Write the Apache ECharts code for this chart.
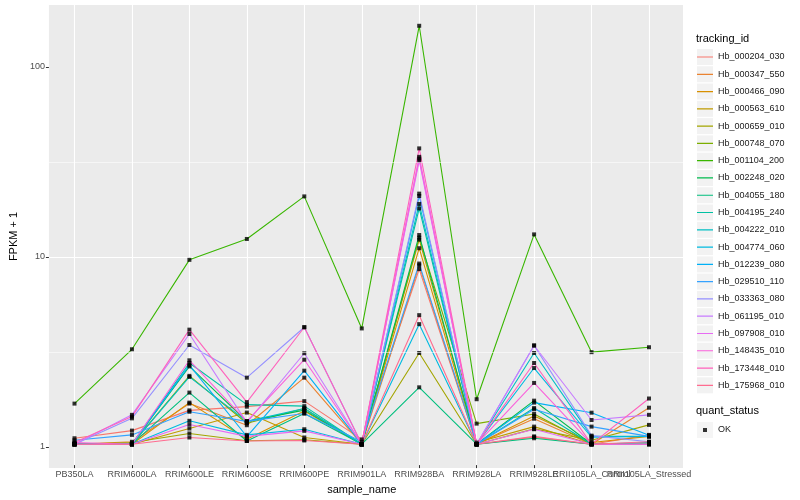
<!DOCTYPE html>
<html><head><meta charset="utf-8">
<script src="https://cdn.jsdelivr.net/npm/echarts@6/dist/echarts.min.js"></script>
<style>html,body{margin:0;padding:0;background:#fff}#c{width:800px;height:500px}</style>
</head><body><div id="c"></div>
<script>
const categories = ['PB350LA','RRIM600LA','RRIM600LE','RRIM600SE','RRIM600PE','RRIM901LA','RRIM928BA','RRIM928LA','RRIM928LE','RRII105LA_Control','RRII105LA_Stressed'];
const trackingIds = ['Hb_000204_030','Hb_000347_550','Hb_000466_090','Hb_000563_610','Hb_000659_010','Hb_000748_070','Hb_001104_200','Hb_002248_020','Hb_004055_180','Hb_004195_240','Hb_004222_010','Hb_004774_060','Hb_012239_080','Hb_029510_110','Hb_033363_080','Hb_061195_010','Hb_097908_010','Hb_148435_010','Hb_173448_010','Hb_175968_010'];
const colors = ['#F8766D','#EA8331','#D89000','#C09B00','#A3A500','#7CAE00','#39B600','#00BB4E','#00BF7D','#00C1A3','#00BFC4','#00BAE0','#00B0F6','#35A2FF','#9590FF','#C77CFF','#E76BF3','#FA62DB','#FF62BC','#FF6C90'];

// FPKM + 1 per sample (order of categories)
const hb_000204_030 = [1.075, 1.18, 1.51, 1.58, 1.69, 1.06, 8.45, 1.0, 1.09, 1.0, 1.12];
const hb_000347_550 = [1.0, 1.03, 1.64, 1.26, 2.25, 1.0, 8.85, 1.0, 1.364, 1.0, 1.56];
const hb_000466_090 = [1.0, 1.0, 1.66, 1.062, 1.5, 1.0, 10.9, 1.0, 1.41, 1.02, 1.1];
const hb_000563_610 = [1.0, 1.0, 1.21, 1.47, 1.085, 1.0, 12.1, 1.02, 1.239, 1.0, 1.0];
const hb_000659_010 = [1.0, 1.02, 1.14, 1.042, 1.055, 1.0, 3.04, 1.0, 1.205, 1.05, 1.265];
const hb_000748_070 = [1.0, 1.0, 2.30, 1.29, 1.546, 1.0, 12.4, 1.285, 1.445, 1.0, 1.0];
const hb_001104_200 = [1.64, 3.18, 9.46, 12.2, 20.5, 4.1, 164, 1.73, 12.9, 3.07, 3.26];
const hb_002248_020 = [1.0, 1.0, 2.58, 1.32, 1.515, 1.0, 12.8, 1.0, 1.70, 1.0, 1.0];
const hb_004055_180 = [1.0, 1.0, 1.876, 1.04, 1.455, 1.0, 2.0, 1.0, 1.075, 1.0, 1.0];
const hb_004195_240 = [1.0, 1.0, 2.69, 1.62, 1.59, 1.0, 17.7, 1.0, 1.553, 1.0, 1.02];
const hb_004222_010 = [1.0, 1.0, 2.27, 1.32, 1.546, 1.0, 18.7, 1.0, 3.04, 1.1, 1.1];
const hb_004774_060 = [1.0, 1.0, 1.33, 1.12, 1.20, 1.0, 4.32, 1.0, 2.53, 1.088, 1.098];
const hb_012239_080 = [1.0, 1.0, 2.62, 1.098, 2.45, 1.0, 20.6, 1.0, 1.66, 1.468, 1.115];
const hb_029510_110 = [1.05, 1.12, 1.485, 1.32, 1.455, 1.03, 9.04, 1.0, 1.53, 1.239, 1.1];
const hb_033363_080 = [1.0, 1.37, 3.35, 2.25, 4.16, 1.0, 21.2, 1.0, 3.33, 1.11, 1.03];
const hb_061195_010 = [1.0, 1.43, 3.83, 1.3, 3.03, 1.0, 32.5, 1.0, 3.33, 1.343, 1.43];
const hb_097908_010 = [1.0, 1.0, 1.27, 1.1, 1.176, 1.0, 31.7, 1.0, 1.2, 1.0, 1.0];
const hb_148435_010 = [1.02, 1.0, 2.78, 1.32, 2.80, 1.0, 33.2, 1.0, 2.11, 1.0, 1.0];
const hb_173448_010 = [1.02, 1.40, 4.04, 1.67, 4.16, 1.0, 36.8, 1.0, 2.69, 1.0, 1.745];
const hb_175968_010 = [1.0, 1.0, 1.085, 1.04, 1.046, 1.0, 4.82, 1.0, 1.1, 1.0, 1.03];

const seriesValues = [hb_000204_030, hb_000347_550, hb_000466_090, hb_000563_610, hb_000659_010, hb_000748_070, hb_001104_200, hb_002248_020, hb_004055_180, hb_004195_240, hb_004222_010, hb_004774_060, hb_012239_080, hb_029510_110, hb_033363_080, hb_061195_010, hb_097908_010, hb_148435_010, hb_173448_010, hb_175968_010];

const yTicks = [1, 10, 100];
const yMinorGrid = [3.1623, 31.623];
const yMin = 0.775, yMax = 211.3;
const quantStatus = ['OK'];

const FONT = '"Liberation Sans", Arial, sans-serif';
const chart = echarts.init(document.getElementById('c'));
const lineIcon = 'path://M0,0h0.01v0.01h-0.01Z M0,7.4h16v1.2h-16Z M15.99,15.99h0.01v0.01h-0.01Z';
const dotIcon = 'path://M0,0h0.01v0.01h-0.01Z M6,6h4v4h-4Z M15.99,15.99h0.01v0.01h-0.01Z';

const series = [];
series.push({
  name: '_minor', type: 'line', xAxisIndex: 0, yAxisIndex: 0, data: [], silent: true, z: 1,
  markLine: { silent: true, symbol: 'none', label: { show: false }, animation: false,
    lineStyle: { color: '#ffffff', width: 0.55, type: 'solid' },
    data: yMinorGrid.map(v => ({ yAxis: v })) }
});
trackingIds.forEach((id, i) => series.push({
  name: id, type: 'line', xAxisIndex: 1, yAxisIndex: 1, data: seriesValues[i],
  showSymbol: false, symbol: 'none', color: colors[i],
  lineStyle: { width: 1.1, color: colors[i] }, z: 2, silent: true
}));
const pts = [];
seriesValues.forEach(vals => vals.forEach((v, j) => pts.push([categories[j], v])));
series.push({
  name: quantStatus[0], type: 'scatter', xAxisIndex: 1, yAxisIndex: 1, data: pts,
  symbol: 'rect', symbolSize: 4, itemStyle: { color: '#000' }, z: 3, silent: true
});

const legBase = { orient: 'vertical', left: 697, itemWidth: 16, itemHeight: 16, itemGap: 1.28,
  selectedMode: false, padding: 0 };

chart.setOption({
  animation: false,
  backgroundColor: '#ffffff',
  textStyle: { fontFamily: FONT },
  title: [
    { text: 'tracking_id', left: 696, top: 33, padding: 0, textStyle: { fontSize: 11, fontWeight: 'normal', color: '#000', fontFamily: FONT } },
    { text: 'quant_status', left: 696, top: 405, padding: 0, textStyle: { fontSize: 11, fontWeight: 'normal', color: '#000', fontFamily: FONT } }
  ],
  legend: [
    Object.assign({}, legBase, { top: 49, z: 3,
      data: trackingIds.map(n => ({ name: n, icon: 'rect', itemStyle: { color: '#F2F2F2' } })),
      textStyle: { color: 'rgba(0,0,0,0)', fontSize: 9, fontFamily: FONT } }),
    Object.assign({}, legBase, { top: 49, z: 4,
      data: trackingIds.map((n, i) => ({ name: n, icon: lineIcon, itemStyle: { color: colors[i] } })),
      textStyle: { color: '#1a1a1a', fontSize: 9, fontFamily: FONT } }),
    Object.assign({}, legBase, { top: 422, z: 3,
      data: quantStatus.map(n => ({ name: n, icon: 'rect', itemStyle: { color: '#F2F2F2' } })),
      textStyle: { color: 'rgba(0,0,0,0)', fontSize: 9, fontFamily: FONT } }),
    Object.assign({}, legBase, { top: 422, z: 4,
      data: quantStatus.map(n => ({ name: n, icon: dotIcon, itemStyle: { color: '#000' } })),
      textStyle: { color: '#1a1a1a', fontSize: 9, fontFamily: FONT } })
  ],
  grid: [
    { left: 40, right: 117, top: 5, bottom: 32, show: true, backgroundColor: '#EBEBEB', borderWidth: 0 },
    { left: 74.5, right: 151, top: 5, bottom: 32, show: false }
  ],
  xAxis: [
    { type: 'value', gridIndex: 0, min: 0, max: 1, show: false },
    { type: 'category', gridIndex: 1, data: categories, boundaryGap: false,
      axisLine: { show: false },
      axisTick: { show: true, length: 3, alignWithLabel: true, interval: 0, lineStyle: { color: '#333333', width: 1 } },
      axisLabel: { interval: 0, fontSize: 9, color: '#4D4D4D', margin: 5, fontFamily: FONT },
      splitLine: { show: true, interval: 0, lineStyle: { color: '#ffffff', width: 1.1 } },
      name: 'sample_name', nameLocation: 'middle', nameGap: 13,
      nameTextStyle: { fontSize: 11, color: '#000', fontFamily: FONT } }
  ],
  yAxis: [
    { type: 'log', logBase: 10, gridIndex: 0, min: yMin, max: yMax,
      axisLine: { show: false },
      axisTick: { show: true, length: 3, customValues: yTicks, lineStyle: { color: '#333333', width: 1 } },
      axisLabel: { fontSize: 9, color: '#4D4D4D', margin: 4, customValues: yTicks, formatter: v => String(Math.round(v)), fontFamily: FONT },
      splitLine: { show: true, showMinLine: false, showMaxLine: false, lineStyle: { color: '#ffffff', width: 1.1 } },
      name: 'FPKM + 1', nameLocation: 'middle', nameGap: 25, nameRotate: 90,
      nameTextStyle: { fontSize: 11, color: '#000', fontFamily: FONT } },
    { type: 'log', logBase: 10, gridIndex: 1, min: yMin, max: yMax, show: false, splitLine: { show: false } }
  ],
  series: series
});
</script></body></html>
